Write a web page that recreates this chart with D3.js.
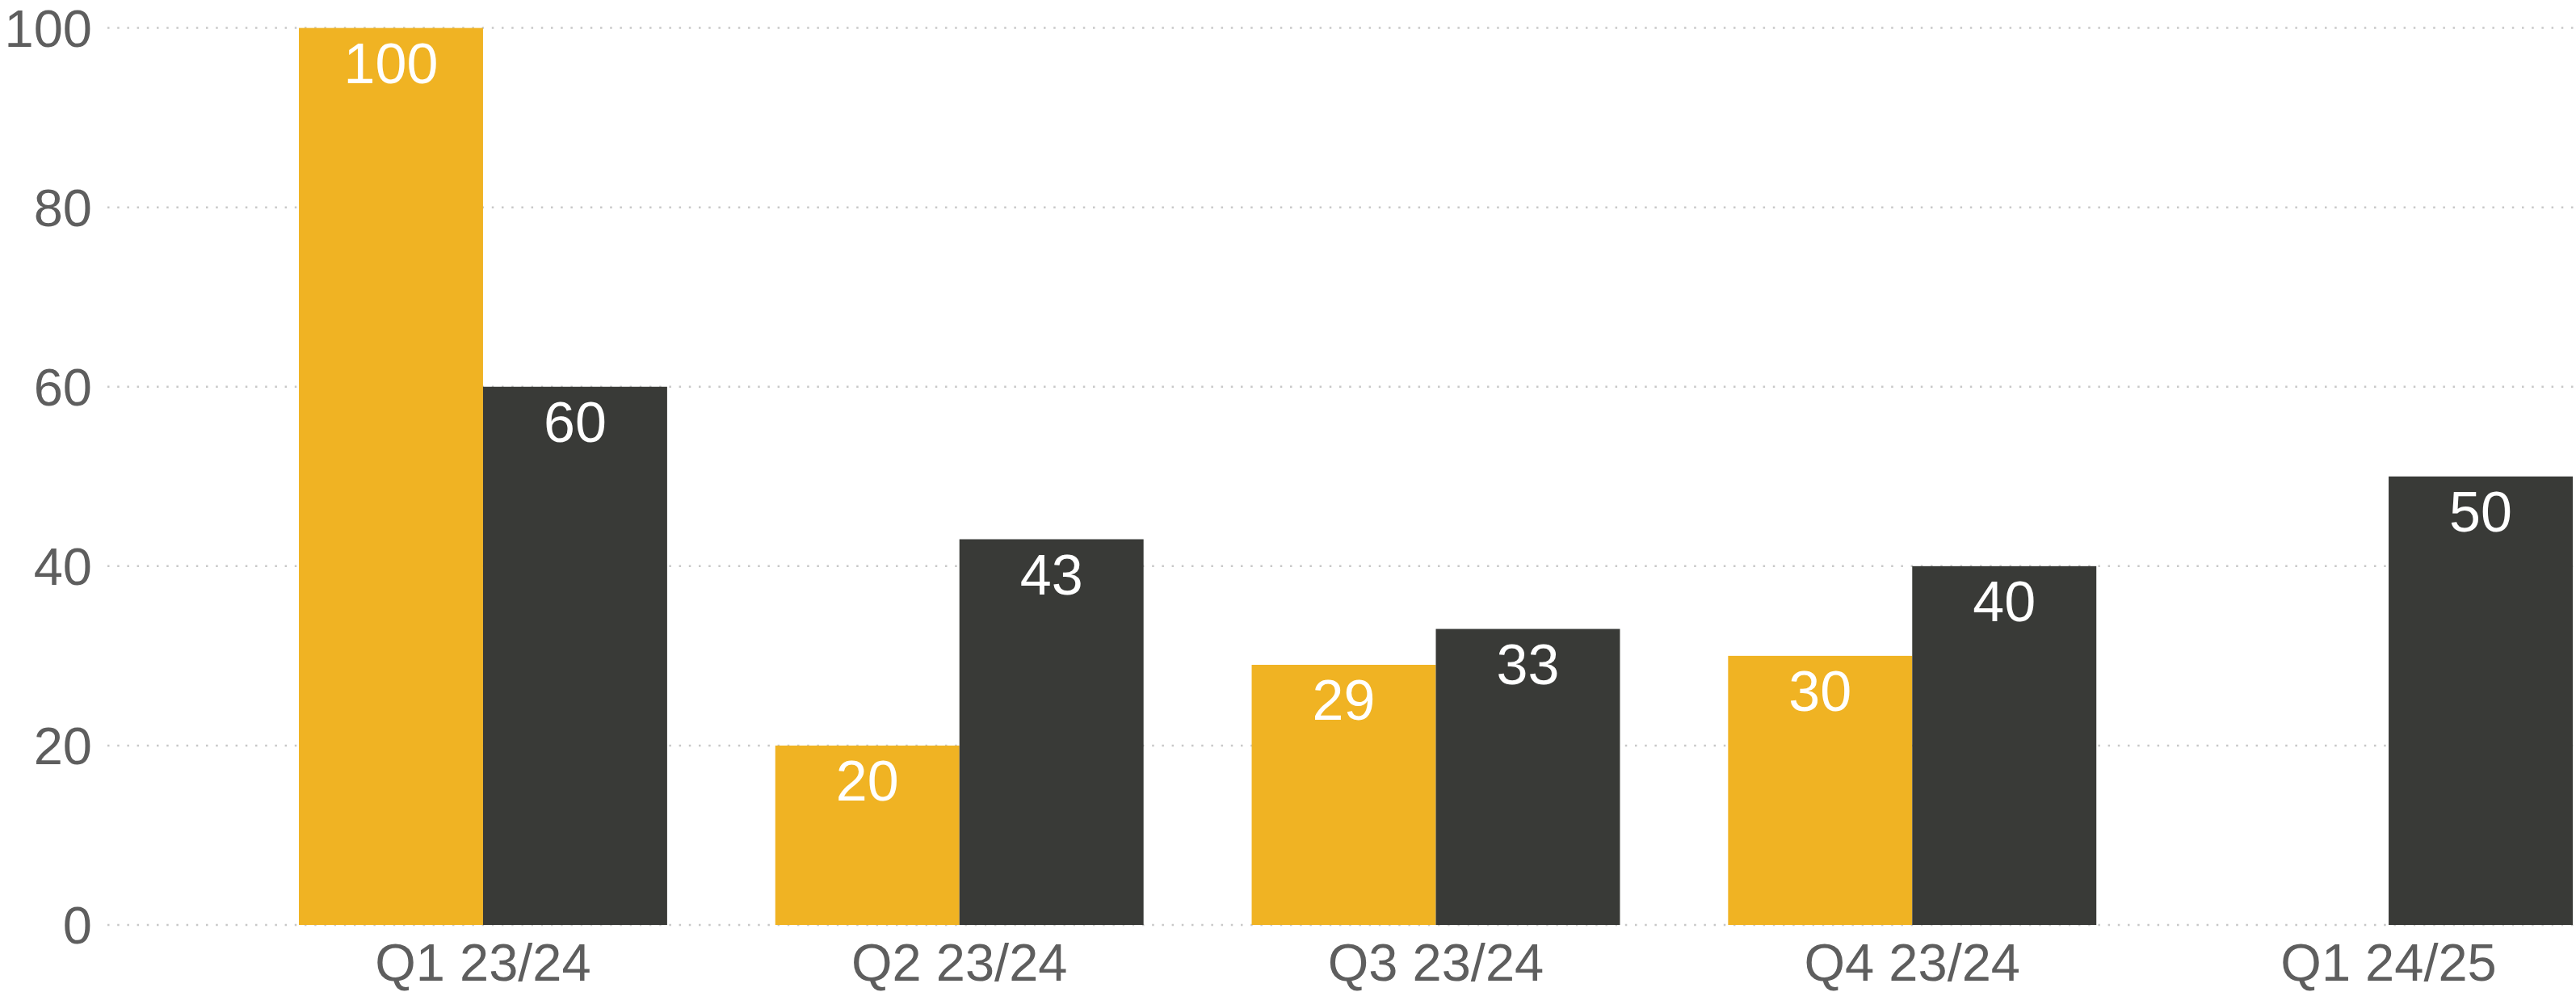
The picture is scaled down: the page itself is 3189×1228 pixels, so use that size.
<!DOCTYPE html>
<html>
<head>
<meta charset="utf-8">
<script src="https://cdn.jsdelivr.net/npm/d3@7"></script>
<style>
  body { margin: 0; background: #ffffff; }
  svg { display: block; }
</style>
</head>
<body>
<svg class="chart" width="3189" height="1228"></svg>
<script>
// quarters and the two series (yellow has no value for the last quarter)
var quarters = ["Q1 23/24", "Q2 23/24", "Q3 23/24", "Q4 23/24", "Q1 24/25"];
var seriesA = [100, 20, 29, 30, null];
var seriesB = [60, 43, 33, 40, 50];
var yTicks = [0, 20, 40, 60, 80, 100];

var colorA = "#F0B323";
var colorB = "#393A37";
var textGrey = "#5E5E5E";

var svg = d3.select(".chart");

var x = d3.scaleBand()
    .domain(quarters)
    .range([370, 3185])
    .paddingInner(0.227)
    .paddingOuter(0);

var xSub = d3.scaleBand()
    .domain(["a", "b"])
    .range([0, x.bandwidth()]);

var y = d3.scaleLinear()
    .domain([0, 100])
    .range([1145, 34.6]);

// dotted gridlines
svg.append("g")
    .selectAll("line")
    .data(yTicks)
    .join("line")
    .attr("x1", 133)
    .attr("x2", 3189)
    .attr("y1", function (d) { return y(d); })
    .attr("y2", function (d) { return y(d); })
    .attr("stroke", "#c8c8c8")
    .attr("stroke-width", 2.5)
    .attr("stroke-dasharray", "2.5,9.7");

// y labels
var yAxis = svg.append("g")
    .attr("transform", "translate(114,0)")
    .call(d3.axisLeft(y).tickValues(yTicks).tickSize(0).tickPadding(0));
yAxis.select(".domain").remove();
yAxis.selectAll("text")
    .attr("fill", textGrey)
    .attr("font-family", "Arial, 'Liberation Sans', sans-serif")
    .attr("font-size", "65px")
    .attr("dy", "0.35em");

// x labels
var xAxis = svg.append("g")
    .attr("transform", "translate(0,1145)")
    .call(d3.axisBottom(x).tickSize(0).tickPadding(0));
xAxis.select(".domain").remove();
xAxis.selectAll("text")
    .attr("fill", textGrey)
    .attr("font-family", "Arial, 'Liberation Sans', sans-serif")
    .attr("font-size", "65px")
    .attr("y", 69)
    .attr("dy", 0);

var rows = [];
quarters.forEach(function (q, i) {
    if (seriesA[i] != null) rows.push({ q: q, key: "a", v: seriesA[i], c: colorA });
    if (seriesB[i] != null) rows.push({ q: q, key: "b", v: seriesB[i], c: colorB });
});

svg.append("g")
    .selectAll("rect")
    .data(rows)
    .join("rect")
    .attr("x", function (d) { return x(d.q) + xSub(d.key); })
    .attr("y", function (d) { return y(d.v); })
    .attr("width", xSub.bandwidth())
    .attr("height", function (d) { return y(0) - y(d.v); })
    .attr("fill", function (d) { return d.c; });

// value labels inside bars
svg.append("g")
    .selectAll("text")
    .data(rows)
    .join("text")
    .attr("x", function (d) { return x(d.q) + xSub(d.key) + xSub.bandwidth() / 2; })
    .attr("y", function (d) { return y(d.v) + 68; })
    .attr("text-anchor", "middle")
    .attr("fill", "#ffffff")
    .attr("font-family", "Arial, 'Liberation Sans', sans-serif")
    .attr("font-size", "70px")
    .text(function (d) { return d.v; });
</script>
</body>
</html>
